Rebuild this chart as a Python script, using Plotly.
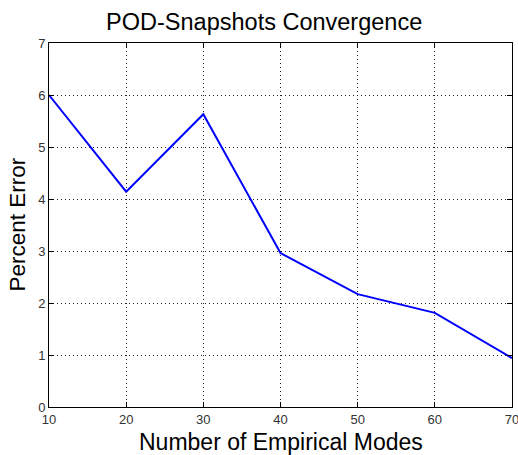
import plotly.graph_objects as go

# data
modes = [10, 20, 30, 40, 50, 60, 70]
percent_error = [6.0, 4.14, 5.63, 2.96, 2.17, 1.81, 0.94]

x_ticks = [10, 20, 30, 40, 50, 60, 70]
y_ticks = [0, 1, 2, 3, 4, 5, 6, 7]

FONT = "Liberation Sans, Arial"

fig = go.Figure()
fig.add_trace(go.Scatter(x=modes, y=percent_error, mode="lines",
                         line=dict(color="#0000ff", width=2), showlegend=False))

axis_common = dict(
    showline=True, linecolor="black", linewidth=1, mirror="ticks",
    showgrid=True, gridcolor="#222222", griddash="1px,3px", gridwidth=1,
    ticks="inside", ticklen=5, tickcolor="black",
    tickfont=dict(family=FONT, size=13, color="#333333"),
    ticklabeloverflow="allow",
    zeroline=False, automargin=False,
)

fig.update_xaxes(range=[10, 70], tickvals=x_ticks, **axis_common)
fig.update_yaxes(range=[0, 7], tickvals=y_ticks, **axis_common)

fig.update_layout(
    width=518, height=455,
    margin=dict(l=49, r=6, t=43, b=48),
    paper_bgcolor="white", plot_bgcolor="white",
    title=dict(text="POD-Snapshots Convergence", x=0.51, xanchor="center",
               xref="container", yref="container", y=0.953, yanchor="middle",
               font=dict(family=FONT, size=23.5, color="black")),
    annotations=[
        dict(text="Number of Empirical Modes", xref="paper", yref="paper",
             x=0.5, y=-0.097, xanchor="center", yanchor="middle", showarrow=False,
             font=dict(family=FONT, size=23, color="black")),
        dict(text="Percent Error", xref="paper", yref="paper",
             x=-0.07, y=0.5, xanchor="center", yanchor="middle", showarrow=False,
             textangle=-90, font=dict(family=FONT, size=22.5, color="black")),
    ],
)

# drop the default page margin so the figure sits at the window's corner
fig.write_html("out.html", config={"displayModeBar": False},
               post_script="document.body.style.margin='0';")
